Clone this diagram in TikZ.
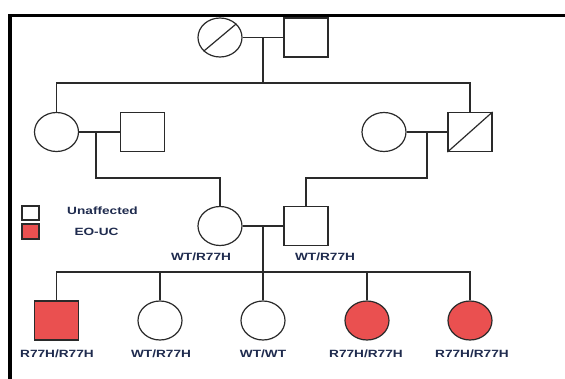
\documentclass[tikz,border=0pt]{standalone}
\usepackage{fontspec}
\usetikzlibrary{shapes.geometric}
\newfontfamily\labfont[FakeStretch=1.3]{Liberation Sans}
\definecolor{affred}{HTML}{EA5050}
\definecolor{labcol}{HTML}{1F2B4E}
\definecolor{linecol}{HTML}{2A2A2A}
\tikzset{
  person/.style={draw=linecol, line width=1.2pt, inner sep=0pt, fill=white},
  female/.style={person, ellipse, minimum width=44pt, minimum height=39pt},
  male/.style={person, rectangle, minimum width=44pt, minimum height=39pt},
  affected/.style={fill=affred},
  conn/.style={draw=linecol, line width=1.2pt},
  lab/.style={font=\labfont\bfseries\fontsize{10.5}{12}\selectfont, text=labcol, inner sep=0pt},
  frame/.style={draw=black, line width=3.6pt}
}
\begin{document}
\begin{tikzpicture}[x=1pt,y=-1pt]
\useasboundingbox (0,0) rectangle (565,378);
\fill[white] (0,0) rectangle (565,378);
\draw[frame] (10,380) -- (10,15.5) -- (567,15.5);

% generation 1
\node[female] (gm) at (220,37.5) {};
\node[male] (gf) at (306,37.5) {};
\draw[conn] (gm.220) -- (gm.40);
\coordinate (m1) at (263,37.5);
\coordinate (s1) at (263,83);

% generation 2
\node[female] (lm) at (56.5,132) {};
\node[male] (lf) at (142.5,132) {};
\node[female] (rm) at (384,132) {};
\node[male] (rf) at (470,132) {};
\draw[conn] (rf.south west) -- (rf.north east);
\coordinate (m2) at (96,132);
\coordinate (s2) at (96,178);
\coordinate (m3) at (427,132);
\coordinate (s3) at (427,178);

% generation 3
\node[female] (mo) at (220,226) {};
\node[male] (fa) at (306,226) {};
\coordinate (m4) at (263,226);
\coordinate (s4) at (263,272);

% children
\node[male, affected] (c1) at (56.5,320.5) {};
\node[female] (c2) at (160,320.5) {};
\node[female] (c3) at (263,320.5) {};
\node[female, affected] (c4) at (367,320.5) {};
\node[female, affected] (c5) at (470,320.5) {};

% connectors
\draw[conn] (gm.east) -- (gf.west);
\draw[conn] (m1) -- (s1);
\draw[conn] (lm.north) |- (s1) -| (rf.north);
\draw[conn] (lm.east) -- (lf.west);
\draw[conn] (rm.east) -- (rf.west);
\draw[conn] (m2) -- (s2) -| (mo.north);
\draw[conn] (m3) -- (s3) -| (fa.north);
\draw[conn] (mo.east) -- (fa.west);
\draw[conn] (m4) -- (s4);
\draw[conn] (c1.north) |- (s4) -| (c5.north);
\draw[conn] (c2.north) -- (c2.north |- s4);
\draw[conn] (c3.north) -- (c3.north |- s4);
\draw[conn] (c4.north) -- (c4.north |- s4);

% labels
\node[lab] (lmo) at (201,257) {WT/R77H};
\node[lab] (lfa) at (325,257) {WT/R77H};
\node[lab] (l1) at (57,354) {R77H/R77H};
\node[lab] (l2) at (161,354) {WT/R77H};
\node[lab] (l3) at (263,354) {WT/WT};
\node[lab] (l4) at (366,354) {R77H/R77H};
\node[lab] (l5) at (472,354) {R77H/R77H};

% legend
\node[person, rectangle, minimum width=17pt, minimum height=14pt] (k1) at (30.5,213) {};
\node[person, rectangle, affected, minimum width=17pt, minimum height=15pt] (k2) at (30.5,231.5) {};
\node[lab] (t1) at (102.5,210.5) {Unaffected};
\node[lab] (t2) at (96.5,232) {EO-UC};
\end{tikzpicture}
\end{document}
